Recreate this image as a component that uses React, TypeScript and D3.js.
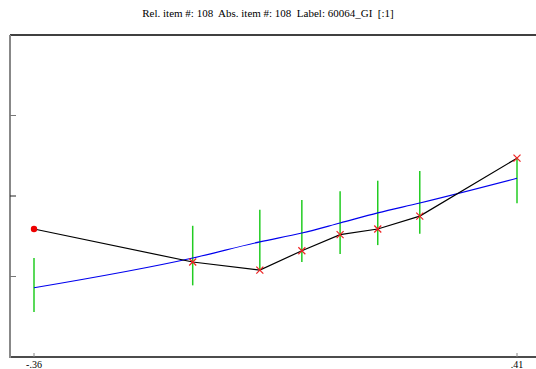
import React from 'react';
import * as d3 from 'd3';

const title = 'Rel. item #: 108  Abs. item #: 108  Label: 60064_GI  [:1]';
const xTickValues = [-0.36, 0.41];
const xTickLabels = ['-.36', '.41'];
const yTickValues = [-1, 0, 1];

// observed points (black line, red markers)
const xs = [-0.36, -0.107, 0.0, 0.067, 0.128, 0.188, 0.255, 0.41];
const observed = [-0.41, -0.82, -0.92, -0.68, -0.48, -0.41, -0.25, 0.47];
// expected curve (blue)
const expected = [-1.14, -0.77, -0.57, -0.46, -0.335, -0.21, -0.087, 0.22];
// confidence bars (green)
const barLow = [-1.44, -1.11, -0.92, -0.82, -0.72, -0.61, -0.47, -0.09];
const barHigh = [-0.77, -0.37, -0.17, -0.05, 0.06, 0.19, 0.31, 0.48];

const W = 536;
const H = 369;
const left = 10, top = 35, bottom = 357;

export default function App() {
  const x = d3.scaleLinear().domain([-0.36, 0.41]).range([34, 517]);
  const y = d3.scaleLinear().domain([-2, 2]).range([bottom, top]);

  const pts = xs.map((v, i) => ({ x: v, obs: observed[i], exp: expected[i], lo: barLow[i], hi: barHigh[i] }));
  const obsLine = d3.line<any>().x(d => x(d.x)).y(d => y(d.obs));
  const expLine = d3.line<any>().x(d => x(d.x)).y(d => y(d.exp)).curve(d3.curveMonotoneX);

  return (
    <svg width={W} height={H} style={{ position: 'fixed', left: 0, top: 0, background: '#fff' }}
      fontFamily="'Liberation Serif', 'Times New Roman', serif">
      <text x={268} y={17} textAnchor="middle" fontSize={11} style={{ whiteSpace: 'pre' }}>{title}</text>
      {/* frame */}
      <line x1={left} x2={W} y1={top} y2={top} stroke="#000" strokeWidth={1.5} />
      <line x1={left} x2={W} y1={bottom} y2={bottom} stroke="#111" strokeWidth={1.5} />
      <line x1={left} x2={left} y1={top} y2={bottom + 1} stroke="#888" strokeWidth={2} />
      {yTickValues.map(t => (
        <line key={t} x1={left} x2={left + 6} y1={y(t)} y2={y(t)} stroke={t === 0 ? '#222' : '#777'} strokeWidth={1} />
      ))}
      {xTickValues.map((t, i) => (
        <g key={t}>
          <line x1={x(t)} x2={x(t)} y1={bottom - 4} y2={bottom} stroke="#888" strokeWidth={1} />
          <text x={x(t)} y={H - 1} textAnchor="middle" fontSize={10}>{xTickLabels[i]}</text>
        </g>
      ))}
      {/* green bars */}
      {pts.map((d, i) => (
        <line key={'b' + i} x1={x(d.x)} x2={x(d.x)} y1={y(d.hi)} y2={y(d.lo)} stroke="#22cc22" strokeWidth={1.5} />
      ))}
      <path d={expLine(pts) || ''} fill="none" stroke="#0000ee" strokeWidth={1.2} />
      <path d={obsLine(pts) || ''} fill="none" stroke="#000" strokeWidth={1.2} />
      {pts.map((d, i) => i === 0 ? (
        <circle key={'m' + i} cx={x(d.x)} cy={y(d.obs)} r={3.2} fill="#ee0000" />
      ) : (
        <g key={'m' + i} stroke="#ee2222" strokeWidth={1.2}>
          <line x1={x(d.x) - 3.5} x2={x(d.x) + 3.5} y1={y(d.obs) - 3.5} y2={y(d.obs) + 3.5} />
          <line x1={x(d.x) - 3.5} x2={x(d.x) + 3.5} y1={y(d.obs) + 3.5} y2={y(d.obs) - 3.5} />
        </g>
      ))}
    </svg>
  );
}
